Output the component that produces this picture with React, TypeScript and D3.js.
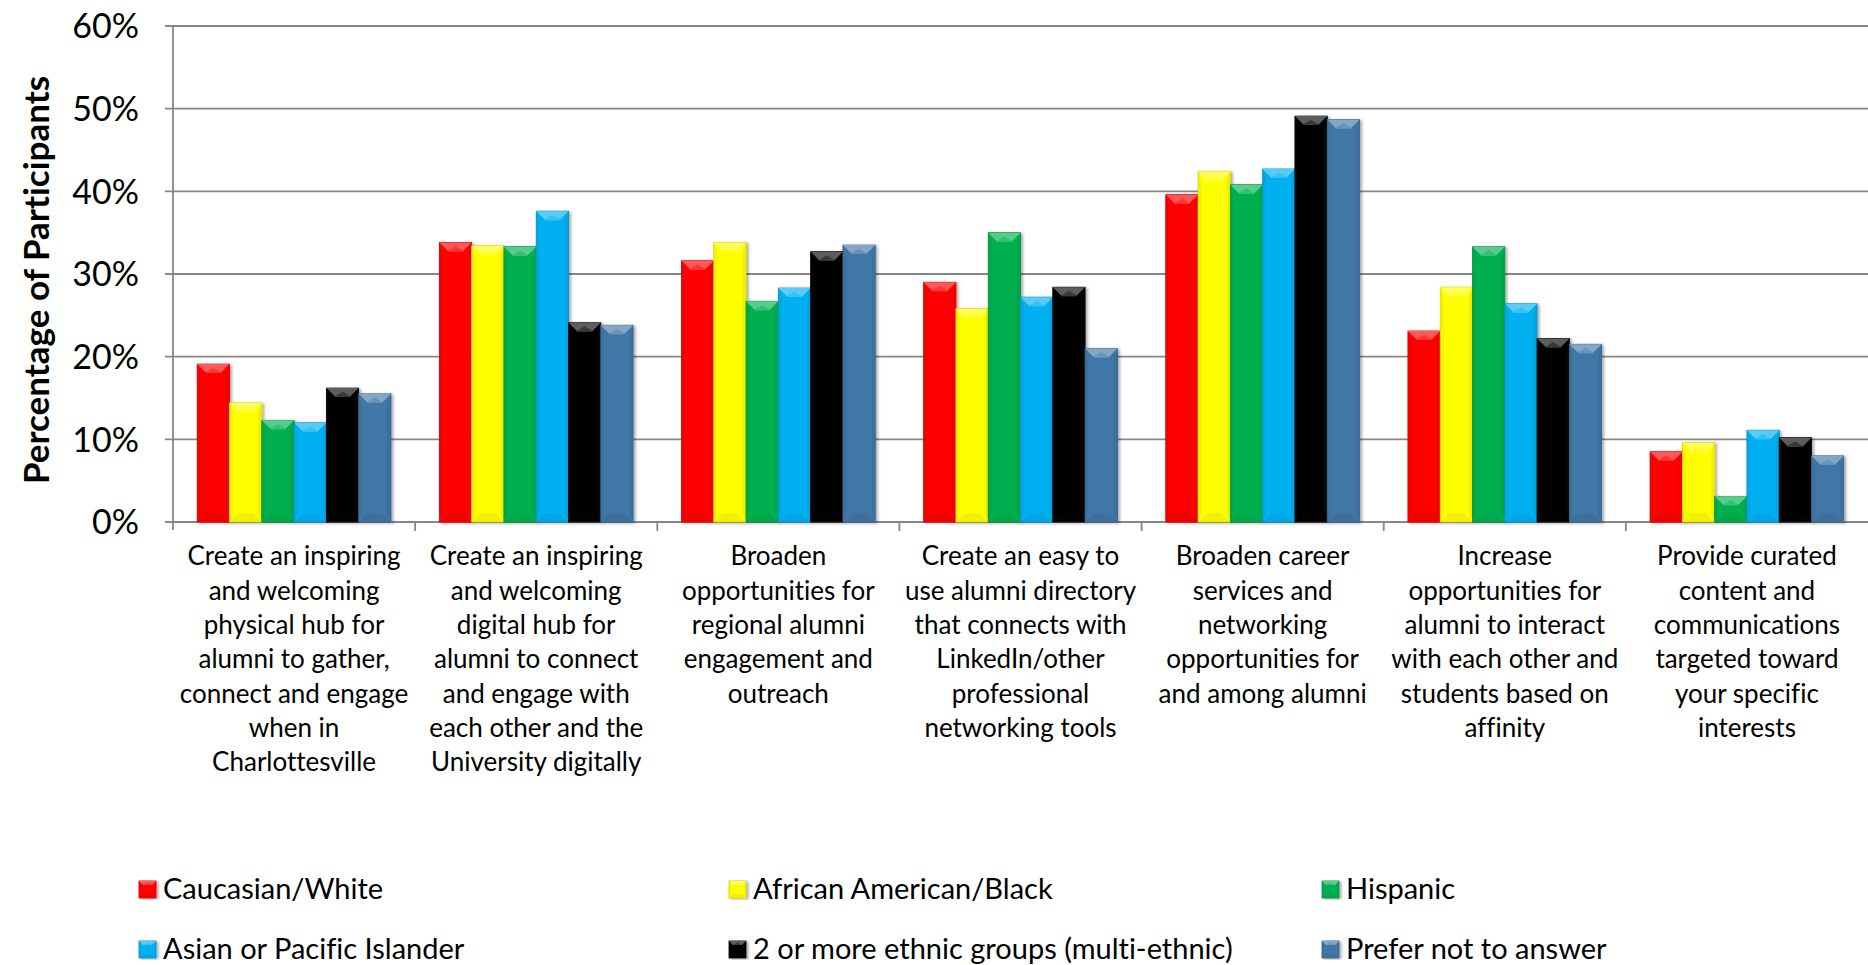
import React from "react";
import * as d3 from "d3";

const categories: string[][] = [
  ["Create an inspiring", "and welcoming", "physical hub for", "alumni to gather,", "connect and engage", "when in", "Charlottesville"],
  ["Create an inspiring", "and welcoming", "digital hub for", "alumni to connect", "and engage with", "each other and the", "University digitally"],
  ["Broaden", "opportunities for", "regional alumni", "engagement and", "outreach"],
  ["Create an easy to", "use alumni directory", "that connects with", "LinkedIn/other", "professional", "networking tools"],
  ["Broaden career", "services and", "networking", "opportunities for", "and among alumni"],
  ["Increase", "opportunities for", "alumni to interact", "with each other and", "students based on", "affinity"],
  ["Provide curated", "content and", "communications", "targeted toward", "your specific", "interests"],
];

const seriesNames = [
  "Caucasian/White",
  "African American/Black",
  "Hispanic",
  "Asian or Pacific Islander",
  "2 or more ethnic groups (multi-ethnic)",
  "Prefer not to answer",
];
const seriesColors = ["#FF0000", "#FFFF00", "#00B050", "#00B0F0", "#050505", "#4177A6"];

const caucasian = [19.1, 33.8, 31.6, 29.0, 39.6, 23.1, 8.5];
const african = [14.4, 33.4, 33.8, 25.8, 42.4, 28.4, 9.6];
const hispanic = [12.3, 33.3, 26.7, 35.0, 40.8, 33.3, 3.1];
const asian = [12.0, 37.6, 28.3, 27.2, 42.7, 26.4, 11.1];
const multi = [16.2, 24.1, 32.7, 28.4, 49.1, 22.2, 10.2];
const prefer = [15.5, 23.8, 33.5, 21.0, 48.7, 21.5, 8.0];
const seriesValues = [caucasian, african, hispanic, asian, multi, prefer];

const yTicks = [0, 10, 20, 30, 40, 50, 60];

const W = 1868;
const H = 965;
const FONT = "Lato, 'Open Sans', sans-serif";

function shade(c: string, k: number) {
  const col = d3.color(c)!;
  return k > 0 ? col.brighter(k).formatHex() : col.darker(-k).formatHex();
}

function BevelBar({ x, y, w, h, color, bevel = 9 }: { x: number; y: number; w: number; h: number; color: string; bevel?: number }) {
  const b = Math.min(bevel, h / 2, w / 3);
  const light = d3.interpolateRgb(color, "#ffffff")(0.35);
  const dark = shade(color, -0.6);
  const side = shade(color, -0.25);
  return (
    <g>
      <rect x={x} y={y} width={w} height={h} fill={color} stroke={dark} strokeWidth={0.8} filter="url(#shadow)" />
      <polygon points={`${x},${y} ${x + w},${y} ${x + w - b},${y + b} ${x + b},${y + b}`} fill={light} />
      <polygon points={`${x + w / 2 - b},${y + b} ${x + w / 2},${y + b * 0.4} ${x + w / 2 + b},${y + b}`} fill={d3.interpolateRgb(color, "#ffffff")(0.15)} opacity={0.7} />
      <polygon points={`${x},${y + h} ${x + w},${y + h} ${x + w - b},${y + h - b} ${x + b},${y + h - b}`} fill={side} opacity={0.6} />
      <polygon points={`${x},${y} ${x + b * 0.4},${y + b} ${x + b * 0.4},${y + h - b} ${x},${y + h}`} fill={side} opacity={0.5} />
      <polygon points={`${x + w},${y} ${x + w - b * 0.4},${y + b} ${x + w - b * 0.4},${y + h - b} ${x + w},${y + h}`} fill={side} opacity={0.7} />
    </g>
  );
}

export default function App() {
  const left = 173;
  const right = 1868;
  const top = 26;
  const bottom = 522;

  const x0 = d3.scaleBand<number>().domain(d3.range(categories.length)).range([left, right]).paddingInner(0).paddingOuter(0);
  const x1 = d3
    .scaleBand<number>()
    .domain(d3.range(seriesNames.length))
    .range([0, x0.bandwidth()])
    .paddingInner(0)
    .paddingOuter(0.75);
  const y = d3.scaleLinear().domain([0, 60]).range([bottom, top]);

  const legendCols = [139, 729, 1322];
  const legendRows = [889, 949];

  return (
    <svg
      width={W}
      height={H}
      style={{ position: "absolute", left: 0, top: 0, background: "#fff", fontVariantLigatures: "none" }}
    >
      <defs>
        <filter id="shadow" x="-20%" y="-5%" width="150%" height="115%">
          <feDropShadow dx="2" dy="1" stdDeviation="1.5" floodColor="#000" floodOpacity="0.35" />
        </filter>
      </defs>
      <rect x={0} y={0} width={W} height={H} fill="#fff" />
      {yTicks.map((t) => (
        <g key={t}>
          <line x1={left - 8} x2={right} y1={y(t)} y2={y(t)} stroke="#878787" strokeWidth={1.8} />
          <text x={139} y={y(t)} dy="0.36em" textAnchor="end" fontFamily={FONT} fontSize={34} fill="#000">
            {t}%
          </text>
        </g>
      ))}
      <line x1={left} x2={left} y1={top} y2={bottom + 8} stroke="#878787" strokeWidth={1.8} />
      {d3.range(1, categories.length).map((i) => (
        <line key={i} x1={x0(i)!} x2={x0(i)!} y1={bottom} y2={bottom + 9} stroke="#878787" strokeWidth={1.8} />
      ))}
      {categories.map((_, ci) => (
        <g key={ci} transform={`translate(${x0(ci)},0)`}>
          {seriesValues.map((vals, si) => (
            <BevelBar
              key={si}
              x={x1(si)!}
              y={y(vals[ci])}
              w={x1.bandwidth()}
              h={bottom - y(vals[ci])}
              color={seriesColors[si]}
            />
          ))}
        </g>
      ))}
      {categories.map((lines, ci) => (
        <text
          key={ci}
          x={x0(ci)! + x0.bandwidth() / 2}
          y={556}
          textAnchor="middle"
          fontFamily={FONT}
          fontSize={26}
          fill="#000"
        >
          {lines.map((l, li) => (
            <tspan key={li} x={x0(ci)! + x0.bandwidth() / 2} y={556 + li * 34.3} dy="0.36em">
              {l}
            </tspan>
          ))}
        </text>
      ))}
      <text
        transform={`translate(36,${(top + bottom) / 2 + 6}) rotate(-90)`}
        textAnchor="middle"
        dy="0.36em"
        fontFamily={FONT}
        fontWeight="bold"
        fontSize={35}
        fill="#000"
      >
        Percentage of Participants
      </text>
      {seriesNames.map((name, i) => {
        const cx = legendCols[i % 3];
        const cy = legendRows[Math.floor(i / 3)];
        return (
          <g key={name}>
            <BevelBar x={cx} y={cy - 8} w={17} h={17} color={seriesColors[i]} bevel={4} />
            <text x={cx + 24} y={cy} dy="0.36em" fontFamily={FONT} fontSize={29} fill="#000">
              {name}
            </text>
          </g>
        );
      })}
    </svg>
  );
}
